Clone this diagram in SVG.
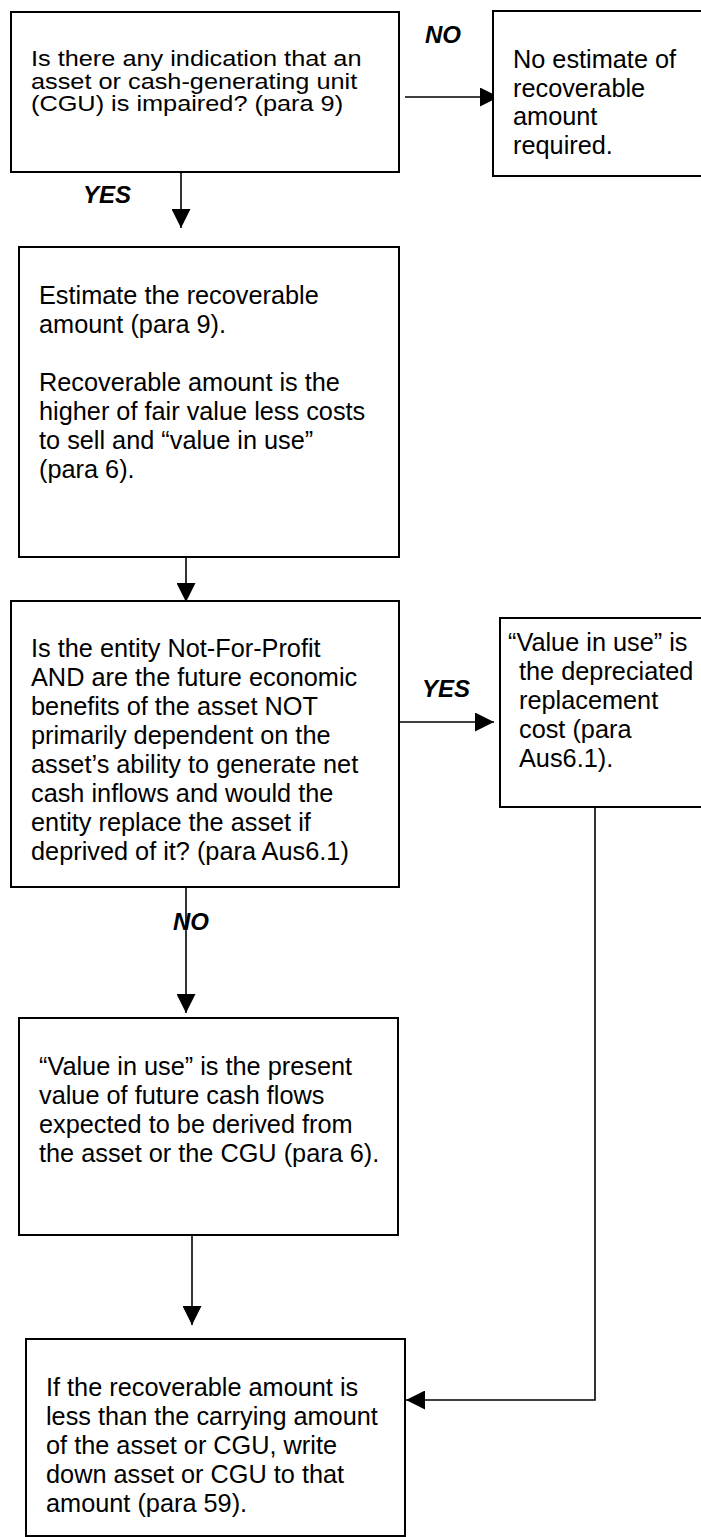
<svg xmlns="http://www.w3.org/2000/svg" width="701" height="1537" viewBox="0 0 701 1537">
  <style>
    .box { fill: #fff; stroke: #000; stroke-width: 2; }
    .txt { font-family: "Liberation Sans", Arial, sans-serif; font-size: 25.3px; fill: #000; }
    .tight { font-family: "Liberation Sans", Arial, sans-serif; font-size: 22.3px; fill: #000; }
    .lbl { font-family: "Liberation Sans", Arial, sans-serif; font-size: 24px; font-weight: bold; font-style: italic; fill: #000; }
    .wire { fill: none; stroke: #000; stroke-width: 1.6; }
  </style>
  <defs>
    <marker id="head" markerUnits="userSpaceOnUse" markerWidth="19" markerHeight="19" refX="19" refY="9.5" orient="auto">
      <path d="M0,0 L19,9.5 L0,19 Z" fill="#000"/>
    </marker>
  </defs>
  <rect width="701" height="1537" fill="#fff"/>

  <g id="connectors">
    <line class="wire" x1="181" y1="172" x2="181" y2="228" marker-end="url(#head)"/>
    <line class="wire" x1="405" y1="97" x2="499" y2="97" marker-end="url(#head)"/>
    <line class="wire" x1="186" y1="557" x2="186" y2="602" marker-end="url(#head)"/>
    <line class="wire" x1="399" y1="722" x2="494" y2="722" marker-end="url(#head)"/>
    <line class="wire" x1="186" y1="887" x2="186" y2="1013" marker-end="url(#head)"/>
    <line class="wire" x1="192" y1="1235" x2="192" y2="1325" marker-end="url(#head)"/>
    <polyline class="wire" points="595,807 595,1400 406,1400" marker-end="url(#head)"/>
    <text class="lbl" x="83" y="203">YES</text>
    <text class="lbl" x="425" y="43">NO</text>
    <text class="lbl" x="422" y="697">YES</text>
    <text class="lbl" x="173" y="930">NO</text>
  </g>

  <g id="impairment-indication">
    <rect class="box" x="11" y="12" width="388" height="160"/>
    <text class="tight" x="31" y="66" textLength="330.5" lengthAdjust="spacingAndGlyphs">Is there any indication that an</text>
    <text class="tight" x="31" y="88.5" textLength="326.2" lengthAdjust="spacingAndGlyphs">asset or cash-generating unit</text>
    <text class="tight" x="31" y="111" textLength="312.1" lengthAdjust="spacingAndGlyphs">(CGU) is impaired? (para 9)</text>
  </g>

  <g id="no-estimate">
    <rect class="box" x="493" y="11" width="212" height="165"/>
    <text class="txt" x="513" y="68">No estimate of</text>
    <text class="txt" x="513" y="96.5">recoverable</text>
    <text class="txt" x="513" y="125">amount</text>
    <text class="txt" x="513" y="154">required.</text>
  </g>

  <g id="estimate-recoverable">
    <rect class="box" x="19" y="247" width="380" height="310"/>
    <text class="txt" x="39" y="304">Estimate the recoverable</text>
    <text class="txt" x="39" y="333">amount (para 9).</text>
    <text class="txt" x="39" y="391">Recoverable amount is the</text>
    <text class="txt" x="39" y="420">higher of fair value less costs</text>
    <text class="txt" x="39" y="449">to sell and “value in use”</text>
    <text class="txt" x="39" y="478">(para 6).</text>
  </g>

  <g id="not-for-profit-test">
    <rect class="box" x="11" y="601" width="388" height="286"/>
    <text class="txt" x="31" y="657">Is the entity Not-For-Profit</text>
    <text class="txt" x="31" y="686">AND are the future economic</text>
    <text class="txt" x="31" y="715">benefits of the asset NOT</text>
    <text class="txt" x="31" y="744">primarily dependent on the</text>
    <text class="txt" x="31" y="773">asset’s ability to generate net</text>
    <text class="txt" x="31" y="802">cash inflows and would the</text>
    <text class="txt" x="31" y="831">entity replace the asset if</text>
    <text class="txt" x="31" y="860">deprived of it? (para Aus6.1)</text>
  </g>

  <g id="depreciated-replacement-cost">
    <rect class="box" x="500" y="618" width="205" height="189"/>
    <text class="txt" x="508" y="651">“Value in use” is</text>
    <text class="txt" x="519" y="680">the depreciated</text>
    <text class="txt" x="519" y="709">replacement</text>
    <text class="txt" x="519" y="738">cost (para</text>
    <text class="txt" x="519" y="767">Aus6.1).</text>
  </g>

  <g id="present-value">
    <rect class="box" x="19" y="1018" width="379" height="217"/>
    <text class="txt" x="39" y="1075">“Value in use” is the present</text>
    <text class="txt" x="39" y="1104">value of future cash flows</text>
    <text class="txt" x="39" y="1133">expected to be derived from</text>
    <text class="txt" x="39" y="1162">the asset or the CGU (para 6).</text>
  </g>

  <g id="write-down">
    <rect class="box" x="26" y="1339" width="379" height="197"/>
    <text class="txt" x="46" y="1396">If the recoverable amount is</text>
    <text class="txt" x="46" y="1425">less than the carrying amount</text>
    <text class="txt" x="46" y="1454">of the asset or CGU, write</text>
    <text class="txt" x="46" y="1483">down asset or CGU to that</text>
    <text class="txt" x="46" y="1512">amount (para 59).</text>
  </g>
</svg>
